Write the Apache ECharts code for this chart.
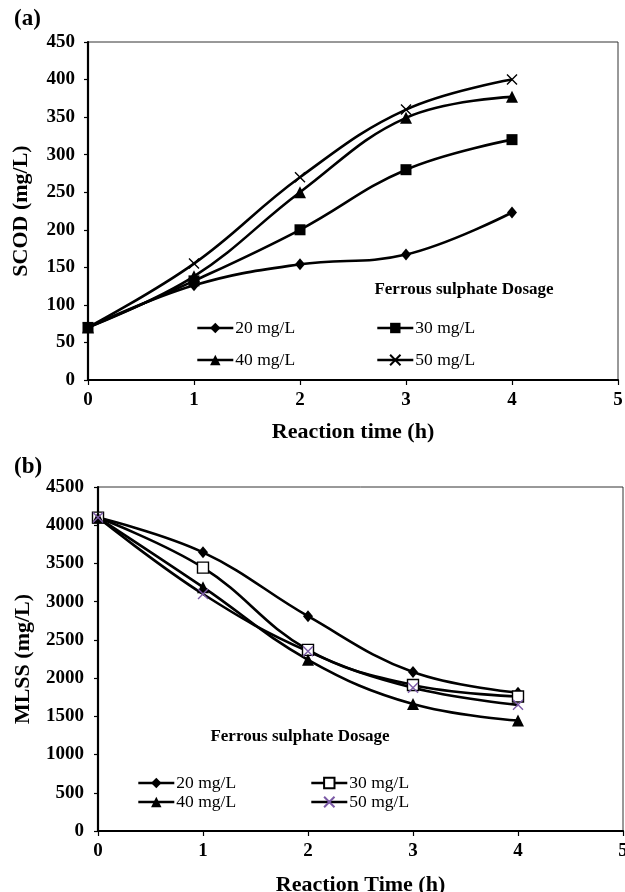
<!DOCTYPE html>
<html><head><meta charset="utf-8">
<script src="https://cdn.jsdelivr.net/npm/echarts@6/dist/echarts.min.js"></script>
<style>html,body{margin:0;padding:0;background:#fff}#c{width:625px;height:892px}</style>
</head><body><div id="c"></div>
<script>
const hours = [0, 1, 2, 3, 4];
const seriesNames = ['20 mg/L', '30 mg/L', '40 mg/L', '50 mg/L'];
// (a) SCOD (mg/L)
const scod20 = [70, 126, 154, 167, 223];
const scod30 = [70, 132, 200, 280, 320];
const scod40 = [70, 138, 250, 349, 377];
const scod50 = [70, 155, 270, 360, 400];
// (b) MLSS (mg/L)
const mlss20 = [4100, 3645, 2810, 2080, 1810];
const mlss30 = [4100, 3445, 2370, 1910, 1760];
const mlss40 = [4100, 3190, 2240, 1660, 1445];
const mlss50 = [4100, 3100, 2350, 1875, 1650];

const FONT = '"Liberation Serif","Times New Roman",serif';
const XMARK = 'path://M0,0L10,10M10,0L0,10';
const pair = (xs, ys) => xs.map((x, i) => [x, ys[i]]);

const symA = [
  {symbol: 'diamond', size: [10, 12], item: {color: '#000'}},
  {symbol: 'rect', size: 11, item: {color: '#000'}},
  {symbol: 'triangle', size: 12, item: {color: '#000'}},
  {symbol: XMARK, size: 10, item: {color: '#000', borderColor: '#000', borderWidth: 1.4}}
];
const symB = [
  {symbol: 'diamond', size: [10, 12], item: {color: '#000'}},
  {symbol: 'rect', size: 11, item: {color: '#fff', borderColor: '#000', borderWidth: 1.4}},
  {symbol: 'triangle', size: 12, item: {color: '#000'}},
  {symbol: XMARK, size: 10, item: {color: '#7b5aa6', borderColor: '#7b5aa6', borderWidth: 1.4}}
];

function mkSeries(name, data, idx, sym, suffix) {
  return {
    id: name + suffix, name: name + suffix, type: 'line', data: pair(hours, data),
    xAxisIndex: idx, yAxisIndex: idx, smooth: 0.4,
    symbol: sym.symbol, symbolSize: sym.size, showSymbol: true,
    lineStyle: {color: '#000', width: 2.6},
    itemStyle: sym.item, color: '#000', z: 3, animation: false
  };
}

const series = [
  mkSeries(seriesNames[0], scod20, 0, symA[0], ''),
  mkSeries(seriesNames[1], scod30, 0, symA[1], ''),
  mkSeries(seriesNames[2], scod40, 0, symA[2], ''),
  mkSeries(seriesNames[3], scod50, 0, symA[3], ''),
  mkSeries(seriesNames[0], mlss20, 1, symB[0], ' '),
  mkSeries(seriesNames[1], mlss30, 1, symB[1], ' '),
  mkSeries(seriesNames[2], mlss40, 1, symB[2], ' '),
  mkSeries(seriesNames[3], mlss50, 1, symB[3], ' ')
];

function leg(name, left, cy) {
  return {
    data: [name], left: left, top: cy - 8, itemWidth: 36, itemHeight: 13, itemGap: 0,
    padding: 0, selectedMode: false,
    lineStyle: {width: 2.6, color: '#000'},
    formatter: n => n.trim(),
    textStyle: {fontFamily: FONT, fontSize: 17.5, color: '#000', padding: [0, 0, 0, -3], lineHeight: 18}
  };
}

const axisLbl = {fontFamily: FONT, fontSize: 19, fontWeight: 'bold', color: '#000', formatter: v => String(v)};
const nameStyle = {fontFamily: FONT, fontSize: 22, fontWeight: 'bold', color: '#000'};
const axLine = {show: true, lineStyle: {color: '#000', width: 2.2}};
const axTick = {show: true, length: 5, lineStyle: {color: '#000', width: 1.2}};

const option = {
  backgroundColor: '#fff',
  animation: false,
  grid: [
    {left: 88, top: 42, width: 530, height: 338, show: true, borderColor: '#333', borderWidth: 1, backgroundColor: 'transparent', outerBoundsMode: 'none'},
    {left: 98, top: 487, width: 525, height: 344, show: true, borderColor: '#333', borderWidth: 1, backgroundColor: 'transparent', outerBoundsMode: 'none'}
  ],
  xAxis: [
    {gridIndex: 0, type: 'value', min: 0, max: 5, interval: 1,
     name: 'Reaction time (h)', nameLocation: 'middle', nameGap: 41, nameTextStyle: nameStyle,
     axisLine: axLine, axisTick: axTick, splitLine: {show: false},
     axisLabel: Object.assign({margin: 11}, axisLbl)},
    {gridIndex: 1, type: 'value', min: 0, max: 5, interval: 1,
     name: 'Reaction Time (h)', nameLocation: 'middle', nameGap: 43, nameTextStyle: nameStyle,
     axisLine: axLine, axisTick: axTick, splitLine: {show: false},
     axisLabel: Object.assign({margin: 11}, axisLbl)}
  ],
  yAxis: [
    {gridIndex: 0, type: 'value', min: 0, max: 450, interval: 50,
     name: 'SCOD (mg/L)', nameLocation: 'middle', nameGap: 56, nameTextStyle: nameStyle,
     axisLine: axLine, axisTick: {show: true, length: 4, lineStyle: {color: '#000', width: 1.2}},
     splitLine: {show: false}, axisLabel: Object.assign({margin: 13}, axisLbl)},
    {gridIndex: 1, type: 'value', min: 0, max: 4500, interval: 500,
     name: 'MLSS (mg/L)', nameLocation: 'middle', nameGap: 64, nameTextStyle: nameStyle,
     axisLine: axLine, axisTick: {show: true, length: 4, lineStyle: {color: '#000', width: 1.2}},
     splitLine: {show: false}, axisLabel: Object.assign({margin: 14}, axisLbl)}
  ],
  legend: [
    leg('20 mg/L', 196, 327), leg('30 mg/L', 376, 327),
    leg('40 mg/L', 196, 359), leg('50 mg/L', 376, 359),
    leg('20 mg/L ', 137, 782), leg('30 mg/L ', 310, 782),
    leg('40 mg/L ', 137, 801), leg('50 mg/L ', 310, 801)
  ],
  graphic: [
    {type: 'text', left: 14, top: 8, style: {text: '(a)', font: 'bold 23px ' + FONT, fill: '#000'}},
    {type: 'text', left: 14, top: 456, style: {text: '(b)', font: 'bold 23px ' + FONT, fill: '#000'}},
    {type: 'text', x: 464, y: 290, style: {text: 'Ferrous sulphate Dosage', font: 'bold 17px ' + FONT, fill: '#000', align: 'center', verticalAlign: 'middle'}},
    {type: 'text', x: 300, y: 737, style: {text: 'Ferrous sulphate Dosage', font: 'bold 17px ' + FONT, fill: '#000', align: 'center', verticalAlign: 'middle'}}
  ],
  series: series
};

const chart = echarts.init(document.getElementById('c'), null, {renderer: 'canvas'});
chart.setOption(option);
</script>
</body></html>
